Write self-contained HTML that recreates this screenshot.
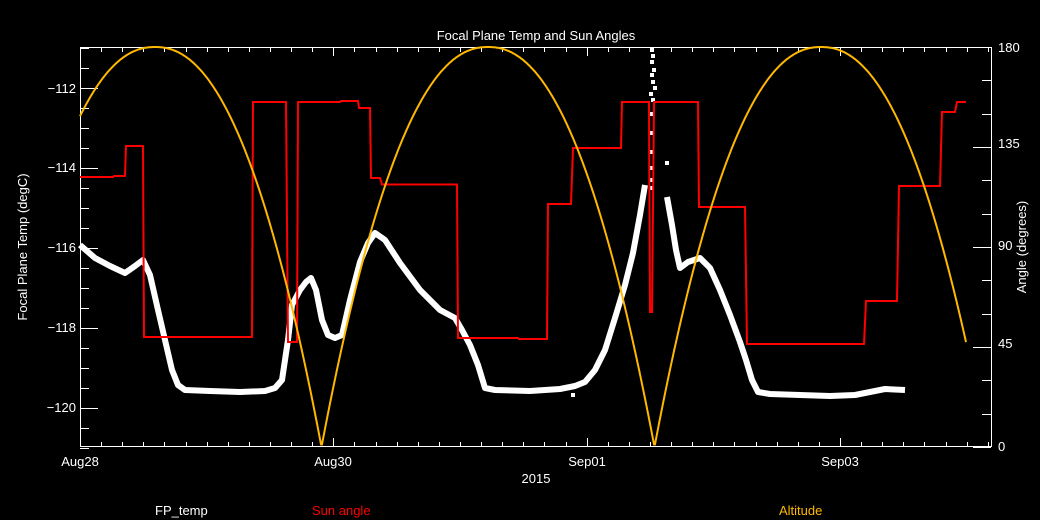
<!DOCTYPE html>
<html><head><meta charset="utf-8"><style>
html,body{margin:0;padding:0;background:#000;}
svg{display:block;font-family:"Liberation Sans","DejaVu Sans",sans-serif;}
</style></head><body>
<svg id="s" width="1040" height="520" viewBox="0 0 1040 520" xmlns="http://www.w3.org/2000/svg">
<rect width="1040" height="520" fill="#000"/>
<g id="ticks" stroke="#fff" stroke-width="1" fill="none"></g>
<rect x="80.5" y="47.5" width="911" height="399" fill="none" stroke="#fff" stroke-width="1"/>
<g fill="#fff" font-size="13">
<text x="536" y="40" text-anchor="middle">Focal Plane Temp and Sun Angles</text>
<text x="76" y="93" text-anchor="end">−112</text>
<text x="76" y="172" text-anchor="end">−114</text>
<text x="76" y="252" text-anchor="end">−116</text>
<text x="76" y="332" text-anchor="end">−118</text>
<text x="76" y="412" text-anchor="end">−120</text>
<text x="998" y="52">180</text>
<text x="998" y="148">135</text>
<text x="998" y="250">90</text>
<text x="998" y="348">45</text>
<text x="998" y="451">0</text>
<text x="80" y="466" text-anchor="middle">Aug28</text>
<text x="333" y="466" text-anchor="middle">Aug30</text>
<text x="587" y="466" text-anchor="middle">Sep01</text>
<text x="840" y="466" text-anchor="middle">Sep03</text>
<text x="536" y="483" text-anchor="middle">2015</text>
<text transform="translate(27,247) rotate(-90)" text-anchor="middle">Focal Plane Temp (degC)</text>
<text transform="translate(1026,247) rotate(-90)" text-anchor="middle">Angle (degrees)</text>
<text x="155" y="515">FP_temp</text>
<text x="312" y="515" fill="#ff0000">Sun angle</text>
<text x="779" y="515" fill="#ffb800">Altitude</text>
</g>
<polyline fill="none" stroke="#fff" stroke-width="6" stroke-linejoin="round" points="80,245 95,258 110,266 125,273 135,266 143,260 150,275 158,310 165,340 172,370 178,385 185,390 210,391 240,392 265,391 275,388 282,380 288,340 292,305 300,290 306,282 311,278 316,290 322,320 328,335 335,338 342,335 350,300 360,262 368,243 375,233 385,240 400,263 420,290 440,310 455,318 462,330 470,345 478,365 485,388 495,390 530,391 560,389 575,386 585,382 595,370 605,350 615,318 625,285 633,253 640,215 645,185"/>
<polyline fill="none" stroke="#fff" stroke-width="6" stroke-linejoin="round" points="667,197 672,225 676,250 680,268 688,262 700,258 710,268 720,290 730,315 740,342 746,360 752,380 758,392 770,394 800,395 830,396 855,395 870,392 885,389 905,390"/>
<g fill="#fff" id="dots"></g>
<polyline fill="none" stroke="#ff0000" stroke-width="2" points="80,177 113,177 114,176 125,176 126,146 142,146 143,146 144,337 252,337 253,102 286,102 288,342 297,342 298,102 340,102 341,101 358,101 359,108 370,108 371,178 380,178 382,184.5 457,184.5 458,338 518,338 519,339 547,339 548,204 571,204 573,148 621,148 622,102 649,102 650,312 652,312 654,102 698,102 699,207 745,207 747,344 864,344 866,301 897,301 899,186 940,186 942,112 955,112 957,102 966,102"/>
<polyline id="alt" fill="none" stroke="#ffb800" stroke-width="2"/>
</svg>
<script>
(function(){
var ns="http://www.w3.org/2000/svg";
var t=document.getElementById("ticks"),d="";
var day=126.67;
for(var i=0;;i++){var x=80+i*day/6;if(x>991.5)break;var xm=Math.round(x)+0.5;var L=(i%12==0)?9:5;
d+="M"+xm+",447V"+(447-L)+"M"+xm+",47V"+(47+L);}
for(var T=-121;T<=-111;T+=0.5){var y=Math.round(88+(-112-T)*40)+0.5;var L=(Math.abs((T+112)%2)<1e-6)?18:9;
d+="M80,"+y+"H"+(80+L);}
for(var a=0;a<=180;a+=15){var y=Math.round(447-a*400/180)+0.5;var L=(a%45==0)?18:9;d+="M991,"+y+"H"+(991-L);}
var p=document.createElementNS(ns,"path");p.setAttribute("d",d);t.appendChild(p);
var pts=[];
for(var x=80;x<=966;x++){var k=Math.round((x-155)/333);var pk=155+k*333;var f=Math.abs(x-pk)/166.5;if(f>1)f=1;
var v=180*(1-Math.pow(f,2.2));pts.push(x+","+(447-v*400/180).toFixed(1));}
document.getElementById("alt").setAttribute("points",pts.join(" "));
var g=document.getElementById("dots");
var sp=[[652,50],[653,56],[652,62],[654,70],[652,75],[653,82],[655,88],[651,94],[653,100],[652,114],[652,133],[652,152],[652,168],[651,180],[652,188],[667,163],[573,395]];
sp.forEach(function(q){var r=document.createElementNS(ns,"rect");r.setAttribute("x",q[0]-2);r.setAttribute("y",q[1]-2);r.setAttribute("width",4);r.setAttribute("height",4);g.appendChild(r);});
})();
</script>
</body></html>
